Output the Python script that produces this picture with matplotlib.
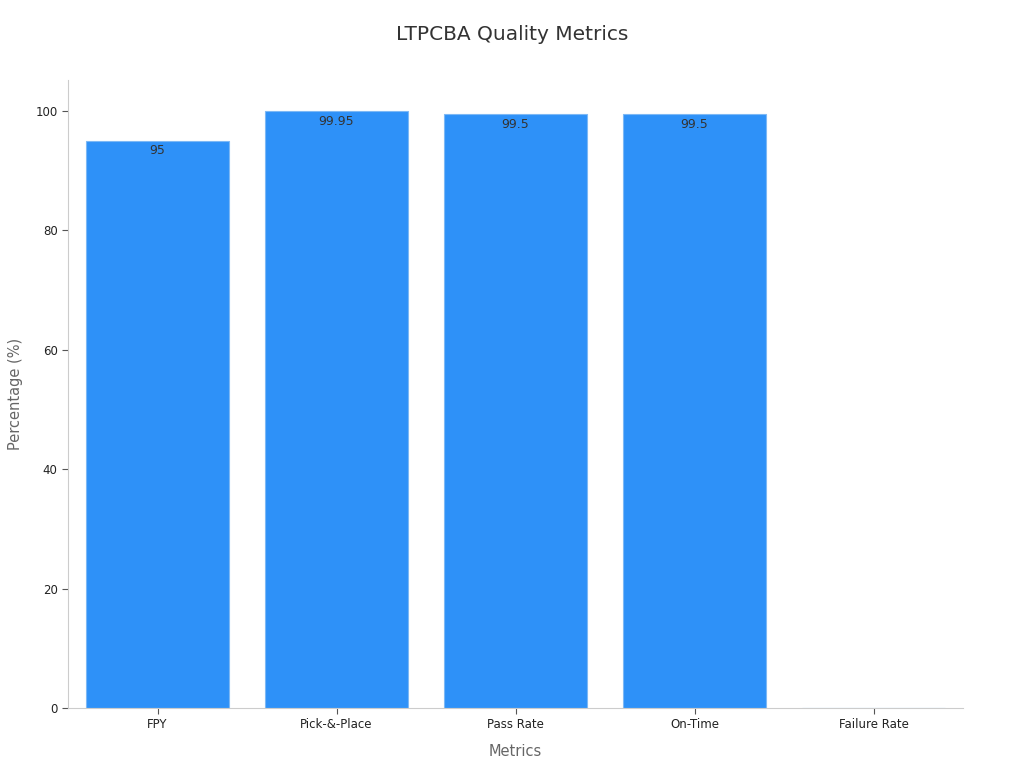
import matplotlib
matplotlib.use('Agg')
import matplotlib.pyplot as plt

metrics = ['FPY', 'Pick-&-Place', 'Pass Rate', 'On-Time', 'Failure Rate']
values = [95, 99.95, 99.5, 99.5, 0]
labels = ['95', '99.95', '99.5', '99.5', '']

fig = plt.figure(figsize=(10.24, 7.68), dpi=100)
ax = fig.add_axes([68/1024, 60/768, 895/1024, 628/768])

bars = ax.bar(range(len(metrics)), values, width=0.795, color='#2E91F8',
              edgecolor='#7DB8F5', linewidth=0.8)
for b, lab in zip(bars, labels):
    if lab:
        ax.text(b.get_x() + b.get_width()/2, b.get_height() - 0.6, lab,
                ha='center', va='top', fontsize=9, color='#333333')

ax.set_xlim(-0.5, 4.5)
ax.set_ylim(0, 105.2)
ax.set_xticks(range(len(metrics)))
ax.set_xticklabels(metrics)
ax.set_yticks([0, 20, 40, 60, 80, 100])
ax.tick_params(labelsize=8.5, length=4)
ax.tick_params(axis='both', colors='#555555', labelcolor='#222222')
for s in ['top', 'right']:
    ax.spines[s].set_visible(False)
for s in ['left', 'bottom']:
    ax.spines[s].set_color('#cccccc')

ax.set_xlabel('Metrics', fontsize=10.5, color='#666666', labelpad=9)
ax.set_ylabel('Percentage (%)', fontsize=10.5, color='#666666', labelpad=9)
fig.suptitle('LTPCBA Quality Metrics', fontsize=14.5, color='#333333', y=0.967)

fig.savefig('out.png', dpi=100)
